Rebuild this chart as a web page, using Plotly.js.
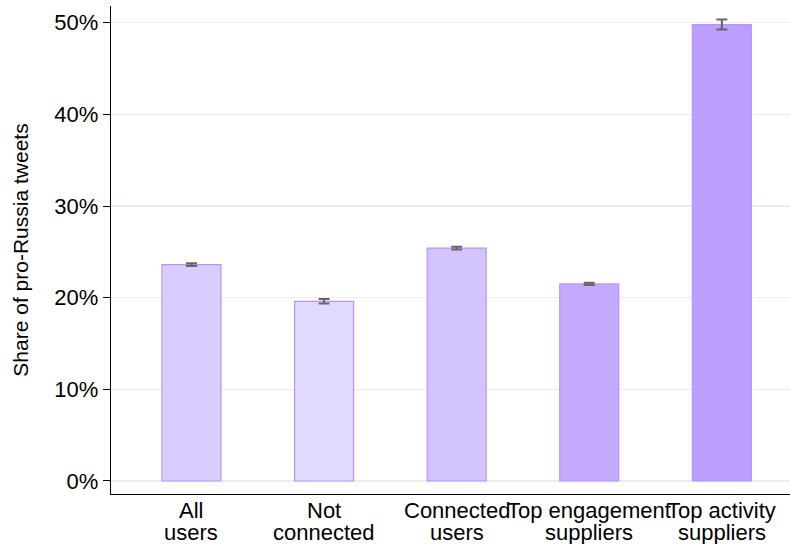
<!DOCTYPE html>
<html><head><meta charset="utf-8">
<script src="https://cdn.plot.ly/plotly-3.0.1.min.js"></script>
<style>body{margin:0;}#c{width:790px;height:544px;}</style>
</head><body><div id="c"></div>
<script>
const labelLine1 = ["All", "Not", "Connected", "Top engagement", "Top activity"];
const labelLine2 = ["users", "connected", "users", "suppliers", "suppliers"];
const shares = [23.6, 19.6, 25.4, 21.5, 49.8];
const errors = [0.15, 0.25, 0.15, 0.12, 0.55];
const fillColors = ["#d9ccff", "#e3daff", "#d3c3ff", "#c5a9ff", "#bd9eff"];
const yTicks = [0, 10, 20, 30, 40, 50];
const yTickText = yTicks.map(v => v + "%");

const xPos = labelLine1.map((c, i) => i);
const trace = {
  type: "bar",
  x: xPos,
  y: shares,
  width: 0.445,
  marker: {color: fillColors, line: {color: "#b893ff", width: 1.2}},
  error_y: {type: "data", array: errors, visible: true, color: "#666666", thickness: 2, width: 5.5},
  hoverinfo: "none"
};
const annotations = [];
xPos.forEach((x, i) => {
  annotations.push({x: x, xref: "x", y: 0, yref: "paper", yanchor: "middle", yshift: -16,
    text: labelLine1[i], showarrow: false, font: {size: 22}});
  annotations.push({x: x, xref: "x", y: 0, yref: "paper", yanchor: "middle", yshift: -38,
    text: labelLine2[i], showarrow: false, font: {size: 22}});
});
const layout = {
  width: 790, height: 544,
  margin: {l: 111, r: 0, t: 6, b: 50},
  paper_bgcolor: "#ffffff", plot_bgcolor: "#ffffff",
  font: {family: "Liberation Sans, Arial, sans-serif", color: "#000"},
  showlegend: false,
  annotations: annotations,
  xaxis: {
    range: [-0.607, 4.514],
    tickvals: xPos, showticklabels: false,
    showline: true, linecolor: "#000", linewidth: 1.2,
    showgrid: false, zeroline: false, ticks: ""
  },
  yaxis: {
    range: [-1.42, 51.82],
    tickvals: yTicks, ticktext: yTickText,
    showline: true, linecolor: "#000", linewidth: 1.2,
    ticks: "outside", ticklen: 7, tickcolor: "#000", tickwidth: 1,
    showgrid: true, gridcolor: "#e8eeee", gridwidth: 1.2,
    zeroline: false,
    tickfont: {size: 22},
    title: {text: "Share of pro-Russia tweets", font: {size: 21}, standoff: 20}
  }
};
Plotly.newPlot("c", [trace], layout, {displayModeBar: false, staticPlot: true});
</script></body></html>
